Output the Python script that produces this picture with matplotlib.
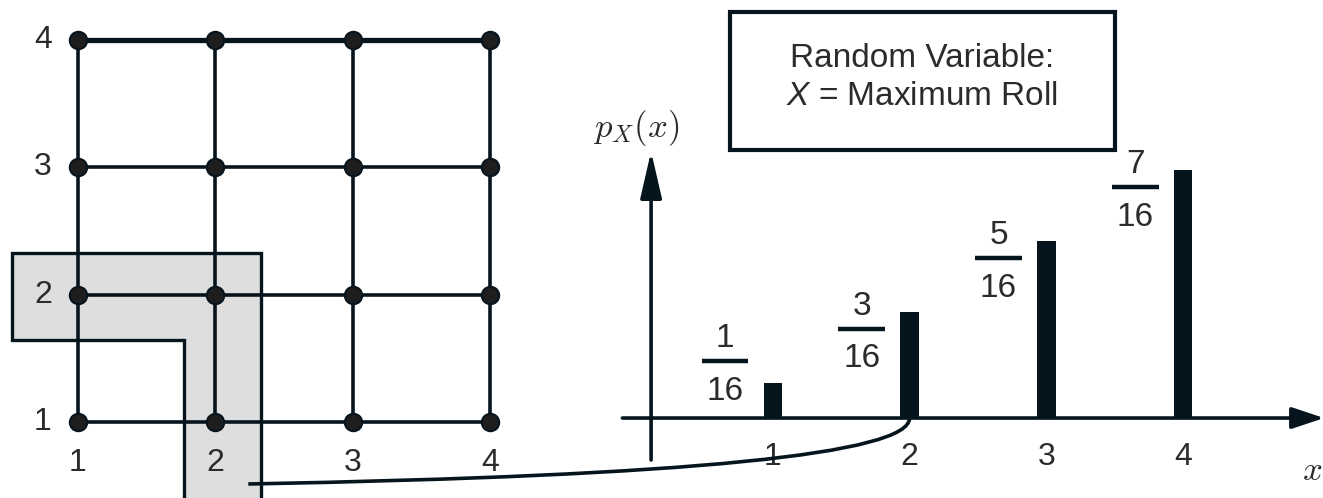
import numpy as np
import matplotlib
matplotlib.use("Agg")
import matplotlib.pyplot as plt
from matplotlib.patches import Polygon, Rectangle, PathPatch
from matplotlib.path import Path
from matplotlib.transforms import IdentityTransform

plt.rcParams['font.family'] = ['Liberation Sans', 'DejaVu Sans']
plt.rcParams['mathtext.fontset'] = 'custom'
plt.rcParams['mathtext.rm'] = 'Liberation Sans'
plt.rcParams['mathtext.it'] = 'Liberation Sans:italic'

# data
rolls = [1, 2, 3, 4]
pmf = [1 / 16, 3 / 16, 5 / 16, 7 / 16]
numerators = ['1', '3', '5', '7']
denominators = ['16', '16', '16', '16']
highlight = 2          # outcomes whose maximum roll is 2
box_lines = ['Random Variable:', '$X$ = Maximum Roll']

dark = '#06141e'
txt = '#2b2b2b'
fs = 23

W, H = 1323, 498
fig = plt.figure(figsize=(W / 100, H / 100), dpi=100)

############################################################################
# left: grid of the 16 outcomes
############################################################################
ax1 = fig.add_axes([0, 0, 560 / W, 1])
ax1.set_xlim(0.432, 4.51)
ax1.set_ylim(0.403, 4.314)
ax1.axis('off')

# shaded L-shape around outcomes with max == highlight
lo = rolls[0] - 0.48
out = highlight + 0.33
Lshape = [(lo, out), (out, out), (out, 0.0), (highlight - 0.23, 0.0),
          (highlight - 0.23, highlight - 0.36), (lo, highlight - 0.36)]
ax1.add_patch(Polygon(Lshape, closed=True, fc='#dedede', ec=dark, lw=2.4, zorder=1))

for r in rolls:
    lw = 3.8 if r == rolls[-1] else 2.6
    ax1.plot([rolls[0], rolls[-1]], [r, r], color=dark, lw=lw, zorder=2)
    ax1.plot([r, r], [rolls[0], rolls[-1]], color=dark, lw=2.6, zorder=2)

gx, gy = np.meshgrid(rolls, rolls)
ax1.plot(gx.ravel(), gy.ravel(), 'o', ms=12.5, mfc='#1e1e1e', mec=dark, mew=1.5, zorder=3)

for r in rolls:
    ax1.text(r, 0.796, str(r), ha='center', va='top', fontsize=fs, color=txt)
    ax1.text(0.745, r, str(r), ha='center', va='center', fontsize=fs, color=txt)

############################################################################
# right: PMF of the maximum roll
############################################################################
ax2 = fig.add_axes([560 / W, 0, 1 - 560 / W, 1])
ax2.set_xlim(-0.556, 5.022)
ax2.set_ylim(-0.141, 0.737)
ax2.axis('off')

ax2.annotate('', xy=(5.03, 0), xytext=(-0.10, 0), annotation_clip=False,
             arrowprops=dict(arrowstyle='-|>,head_length=0.9,head_width=0.3',
                             lw=2.6, color=dark, mutation_scale=22, shrinkA=0, shrinkB=0))
ax2.annotate('', xy=(0.11, 0.47), xytext=(0.11, -0.074), annotation_clip=False,
             arrowprops=dict(arrowstyle='-|>,head_length=1.3,head_width=0.3',
                             lw=2.6, color=dark, mutation_scale=22, shrinkA=0, shrinkB=0))

ax2.bar(rolls, pmf, width=0.135, color=dark, zorder=3)

for r, p, n, d in zip(rolls, pmf, numerators, denominators):
    cx = r - 0.35
    ly = max(p - 0.03, 0.10)
    ax2.plot([cx - 0.17, cx + 0.17], [ly, ly], color=dark, lw=3.2, solid_capstyle='butt')
    ax2.text(cx, ly + 0.025, n, ha='center', va='baseline', fontsize=fs + 1, color=txt)
    ax2.text(cx, ly - 0.026, d, ha='center', va='top', fontsize=fs + 1, color=txt)

for r in rolls:
    ax2.text(r, -0.042, str(r), ha='center', va='top', fontsize=fs, color=txt)

ax2.text(0.0, 0.511, '$p_X(x)$', ha='center', va='center', fontsize=25,
         color=txt, math_fontfamily='cm')
ax2.text(5.015, -0.092, '$x$', ha='right', va='center', fontsize=25,
         color=txt, math_fontfamily='cm')

# text box
ax2.add_patch(Rectangle((0.687, 0.473), 3.501 - 0.687, 0.716 - 0.473,
                        fc='white', ec=dark, lw=3, zorder=4))
ax2.text(2.09, 0.633, box_lines[0], ha='center', va='center', fontsize=24, color=txt, zorder=5)
ax2.text(2.09, 0.566, box_lines[1], ha='center', va='center', fontsize=24, color=txt, zorder=5)

# connector from the shaded outcomes to the bar at x = highlight
p0 = ax1.transData.transform((2.24, 0.513))
p2 = ax2.transData.transform((highlight, 0.0))
p1 = (p2[0], p0[1] + 12)
conn = Path([p0, p1, p2], [Path.MOVETO, Path.CURVE3, Path.CURVE3])
fig.add_artist(PathPatch(conn, fc='none', ec=dark, lw=2.6, transform=IdentityTransform()))

fig.savefig('out.png', dpi=100)
